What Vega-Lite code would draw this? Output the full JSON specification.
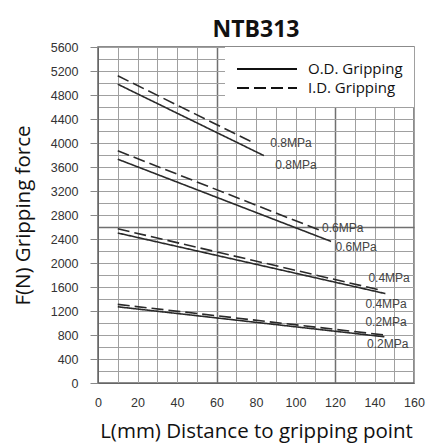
{
  "$schema": "https://vega.github.io/schema/vega-lite/v6.json",
  "autosize": {"type": "none"},
  "width": 316,
  "height": 336,
  "padding": {"left": 98, "top": 47, "right": 21, "bottom": 63},
  "background": "white",
  "title": {"text": "NTB313", "font": "Open Sans", "fontSize": 23, "fontWeight": "bold", "color": "#111", "offset": -1, "anchor": "middle"},
  "config": {
    "view": {"stroke": "#666", "strokeWidth": 1.5},
    "axis": {"labelFont": "Liberation Sans", "labelFontSize": 12.5, "labelColor": "#333", "titleFont": "Open Sans", "titleFontSize": 20.5, "titleFontWeight": "normal", "titleColor": "#111", "domainColor": "#666", "gridColor": "#a0a0a0", "gridWidth": 1}
  },
  "datasets": {
    "curves": [
      {"series": "0.8 OD", "type": "O.D. Gripping", "L": 10, "F": 4980},
      {"series": "0.8 OD", "type": "O.D. Gripping", "L": 84, "F": 3790},
      {"series": "0.8 ID", "type": "I.D. Gripping", "L": 10, "F": 5120},
      {"series": "0.8 ID", "type": "I.D. Gripping", "L": 79, "F": 4000},
      {"series": "0.6 OD", "type": "O.D. Gripping", "L": 10, "F": 3730},
      {"series": "0.6 OD", "type": "O.D. Gripping", "L": 118, "F": 2360},
      {"series": "0.6 ID", "type": "I.D. Gripping", "L": 10, "F": 3870},
      {"series": "0.6 ID", "type": "I.D. Gripping", "L": 112, "F": 2550},
      {"series": "0.4 OD", "type": "O.D. Gripping", "L": 10, "F": 2500},
      {"series": "0.4 OD", "type": "O.D. Gripping", "L": 145.5, "F": 1490},
      {"series": "0.4 ID", "type": "I.D. Gripping", "L": 10, "F": 2570},
      {"series": "0.4 ID", "type": "I.D. Gripping", "L": 144, "F": 1540},
      {"series": "0.2 OD", "type": "O.D. Gripping", "L": 10, "F": 1270},
      {"series": "0.2 OD", "type": "O.D. Gripping", "L": 145, "F": 770},
      {"series": "0.2 ID", "type": "I.D. Gripping", "L": 10, "F": 1310},
      {"series": "0.2 ID", "type": "I.D. Gripping", "L": 145, "F": 800}
    ],
    "labels": [
      {"L": 87.2, "F": 4000, "text": "0.8MPa"},
      {"L": 89.8, "F": 3633, "text": "0.8MPa"},
      {"L": 113.4, "F": 2578, "text": "0.6MPa"},
      {"L": 120.2, "F": 2272, "text": "0.6MPa"},
      {"L": 136.9, "F": 1755, "text": "0.4MPa"},
      {"L": 135.4, "F": 1312, "text": "0.4MPa"},
      {"L": 135.4, "F": 1012, "text": "0.2MPa"},
      {"L": 136.2, "F": 645, "text": "0.2MPa"}
    ]
  },
  "encoding": {
    "x": {"field": "L", "type": "quantitative", "scale": {"domain": [0, 160], "nice": false, "zero": true},
      "axis": {"title": "L(mm) Distance to gripping point", "values": [0,10,20,30,40,50,60,70,80,90,100,110,120,130,140,150,160],
        "labelExpr": "datum.value % 20 === 0 ? datum.label : ''", "ticks": false, "labelPadding": 13, "titlePadding": 13, "labelFlush": false,
        "gridColor": {"condition": {"test": "datum.value === 60 || datum.value === 120", "value": "#707070"}, "value": "#a0a0a0"},
        "gridWidth": {"condition": {"test": "datum.value === 60 || datum.value === 120", "value": 1.5}, "value": 1}}},
    "y": {"field": "F", "type": "quantitative", "scale": {"domain": [0, 5600], "nice": false, "zero": true},
      "axis": {"title": "F(N) Gripping force", "values": [0,200,400,600,800,1000,1200,1400,1600,1800,2000,2200,2400,2600,2800,3000,3200,3400,3600,3800,4000,4200,4400,4600,4800,5000,5200,5400,5600],
        "labelExpr": "datum.value % 400 === 0 ? datum.label : ''", "format": "d", "tickSize": 8, "tickColor": "#888",
        "tickOpacity": {"condition": {"test": "datum.value % 400 === 0", "value": 1}, "value": 0},
        "labelPadding": 12, "titlePadding": 17, "labelFlush": false,
        "gridColor": {"condition": {"test": "datum.value === 2600", "value": "#707070"}, "value": "#a0a0a0"},
        "gridWidth": {"condition": {"test": "datum.value === 2600", "value": 1.5}, "value": 1}}}
  },
  "layer": [
    {
      "data": {"name": "curves"},
      "mark": {"type": "line", "color": "#2a2a2a", "strokeWidth": 1.6},
      "encoding": {
        "detail": {"field": "series"},
        "strokeDash": {"field": "type", "type": "nominal",
          "scale": {"domain": ["O.D. Gripping", "I.D. Gripping"], "range": [[1, 0], [12, 5]]},
          "legend": {"title": null, "orient": "top-right", "offset": 0, "fillColor": "white", "padding": 11,
            "symbolType": "M-3,0H3", "symbolSize": 400, "symbolOffset": 20, "symbolStrokeWidth": 2, "symbolStrokeColor": "#111",
            "labelFont": "Open Sans", "labelFontSize": 15, "labelColor": "#111", "rowPadding": 0, "labelOffset": 30}}
      }
    },
    {
      "data": {"name": "labels"},
      "mark": {"type": "text", "align": "left", "baseline": "middle", "font": "Liberation Sans", "fontSize": 12, "color": "#444"},
      "encoding": {"text": {"field": "text"}}
    }
  ]
}
